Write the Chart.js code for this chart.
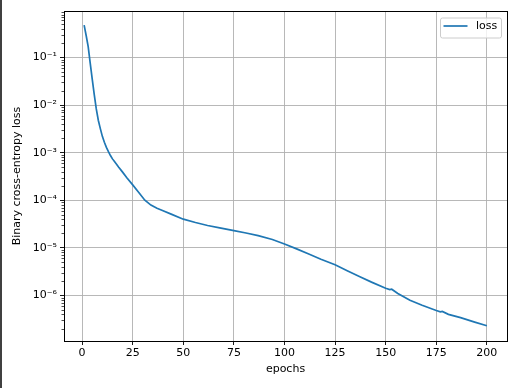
<!DOCTYPE html>
<html>
<head>
<meta charset="utf-8">
<script src="https://cdn.jsdelivr.net/npm/chart.js@4/dist/chart.umd.min.js"></script>
<style>
  html, body { margin: 0; padding: 0; background: #fff; }
  canvas { display: block; }
</style>
</head>
<body>
<canvas id="lossChart" width="518" height="388"></canvas>
<script>
// values
var epochs = [1, 2, 3, 4, 5, 6, 7, 8, 9, 10, 11, 12, 13, 14, 15, 16, 18, 20, 22, 25,
  28, 31, 34, 37, 40, 44, 50, 56, 62, 68, 75, 81, 87, 94, 100, 106, 112, 118, 125,
  131, 137, 143, 150, 152, 153, 156, 162, 168, 175, 177, 178, 181, 187, 194, 200];
var loss = [0.48, 0.29, 0.17, 0.076, 0.035, 0.0166, 0.0083, 0.0048, 0.0032, 0.0022,
  0.00166, 0.00129, 0.00105, 0.00087, 0.00074, 0.00065, 0.0005, 0.00039, 0.0003, 0.00021,
  0.000145, 0.0001, 7.9e-5, 6.8e-5, 6.0e-5, 5.1e-5, 4.0e-5, 3.4e-5, 2.95e-5, 2.63e-5,
  2.3e-5, 2.05e-5, 1.8e-5, 1.5e-5, 1.2e-5, 9.5e-6, 7.4e-6, 5.75e-6, 4.4e-6,
  3.3e-6, 2.5e-6, 1.9e-6, 1.41e-6, 1.32e-6, 1.35e-6, 1.1e-6, 7.9e-7, 6.2e-7, 4.8e-7,
  4.5e-7, 4.6e-7, 4.0e-7, 3.4e-7, 2.75e-7, 2.3e-7];
var xTicks = [0, 25, 50, 75, 100, 125, 150, 175, 200];
var yDecades = [-7, -6, -5, -4, -3, -2, -1, 0];

var sup = {'-': '\u207B', '0': '\u2070', '1': '\u00B9', '2': '\u00B2', '3': '\u00B3',
  '4': '\u2074', '5': '\u2075', '6': '\u2076', '7': '\u2077', '8': '\u2078', '9': '\u2079'};
function isMajor(v) {
  var l = Math.log10(v);
  return Math.abs(l - Math.round(l)) < 1e-9;
}

var font = { family: 'DejaVu Sans', size: 11 };
var yMin = 1.1e-7, yMax = 0.95;

// box round the plot, minor log ticks, legend, dark left edge
var extras = {
  id: 'extras',
  afterDraw: function (chart) {
    var c = chart.ctx, a = chart.chartArea, y = chart.scales.y;
    c.save();
    // minor ticks
    c.strokeStyle = '#000';
    c.lineWidth = 0.7;
    y.ticks.forEach(function (t) {
      if (isMajor(t.value)) return;
      var py = Math.round(y.getPixelForValue(t.value)) + 0.5;
      c.beginPath();
      c.moveTo(a.left - 2.5, py);
      c.lineTo(a.left, py);
      c.stroke();
    });
    // frame
    c.lineWidth = 1;
    c.strokeRect(Math.round(a.left) + 0.5, Math.round(a.top) + 0.5,
      Math.round(a.right - a.left), Math.round(a.bottom - a.top));
    // legend
    var lx = 440, ly = 17.5, lw = 61, lh = 20;
    c.fillStyle = 'rgba(255,255,255,0.8)';
    c.strokeStyle = '#cccccc';
    c.beginPath();
    c.roundRect(lx + 0.5, ly + 0.5, lw, lh, 2);
    c.fill();
    c.stroke();
    c.strokeStyle = '#1f77b4';
    c.lineWidth = 1.7;
    c.beginPath();
    c.moveTo(443.5, 26);
    c.lineTo(467.5, 26);
    c.stroke();
    c.fillStyle = '#000';
    c.font = '11px "DejaVu Sans"';
    c.textBaseline = 'middle';
    c.fillText(chart.data.datasets[0].label, 476, 26.5);
    // left edge line of the screenshot
    c.fillStyle = '#404040';
    c.fillRect(0, 0, 2, chart.height);
    c.restore();
  }
};

var context = document.getElementById('lossChart').getContext('2d');
var myChart = new Chart(context, {
  type: 'line',
  data: {
    datasets: [{
      label: 'loss',
      data: epochs.map(function (e, i) { return { x: e, y: loss[i] }; }),
      borderColor: '#1f77b4',
      borderWidth: 1.7,
      pointRadius: 0,
      tension: 0,
      fill: false
    }]
  },
  options: {
    responsive: false,
    animation: false,
    layout: { padding: { top: 11, right: 11, left: 0, bottom: 0 } },
    plugins: { legend: { display: false }, tooltip: { enabled: false } },
    scales: {
      x: {
        type: 'linear',
        min: -8.95,
        max: 209.95,
        afterBuildTicks: function (s) { s.ticks = xTicks.map(function (v) { return { value: v }; }); },
        afterFit: function (s) { s.height = 47; },
        grid: { color: '#b0b0b0', lineWidth: 0.9, tickLength: 4, tickColor: '#000' },
        border: { color: '#000', width: 1 },
        ticks: { color: '#000', font: font, padding: 2, maxRotation: 0, autoSkip: false },
        title: { display: true, text: 'epochs', color: '#000', font: font, padding: { top: 2, bottom: 12 } }
      },
      y: {
        type: 'logarithmic',
        min: yMin,
        max: yMax,
        afterBuildTicks: function (s) {
          var t = [];
          yDecades.forEach(function (n) {
            for (var k = 1; k <= 9; k++) {
              var v = k * Math.pow(10, n);
              if (v >= yMin && v <= yMax) t.push({ value: v });
            }
          });
          s.ticks = t;
        },
        afterFit: function (s) { s.width = 64; },
        grid: {
          color: function (ctx) { return ctx.tick && isMajor(ctx.tick.value) ? '#b0b0b0' : 'rgba(0,0,0,0)'; },
          tickColor: function (ctx) { return ctx.tick && isMajor(ctx.tick.value) ? '#000' : 'rgba(0,0,0,0)'; },
          lineWidth: 0.9,
          tickLength: 4
        },
        border: { color: '#000', width: 1 },
        ticks: {
          color: '#000',
          font: font,
          padding: 3,
          autoSkip: false,
          callback: function (v) {
            if (!isMajor(v)) return '';
            var e = String(Math.round(Math.log10(v)));
            return '10' + e.split('').map(function (ch) { return sup[ch]; }).join('');
          }
        },
        title: { display: true, text: 'Binary cross-entropy loss', color: '#000', font: font, padding: { top: 11, bottom: 0 } }
      }
    }
  },
  plugins: [extras]
});
</script>
</body>
</html>
